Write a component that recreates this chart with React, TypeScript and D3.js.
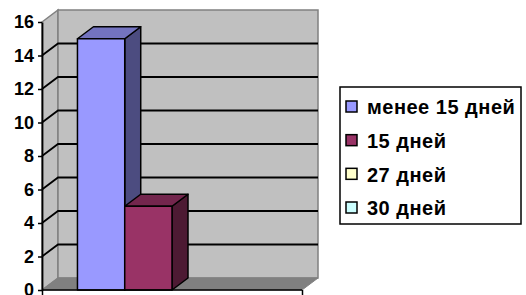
import { useEffect, useRef } from 'react';
import * as d3 from 'd3';

const seriesNames = ['менее 15 дней', '15 дней', '27 дней', '30 дней'];
const seriesValues = [15, 5, 0, 0];
const yTicks = [0, 2, 4, 6, 8, 10, 12, 14, 16];

const frontColors = ['#9999ff', '#993366', '#ffffcc', '#ccffff'];
const sideColors = ['#4c4c80', '#4d1a33', '#808066', '#668080'];
const topColors = ['#7373bf', '#73264d', '#bfbf99', '#99bfbf'];

const W = 526, H = 295;
const DX = 16, DY = 12;
const FONT = '"Liberation Sans", Arial, sans-serif';

export default function App() {
  const ref = useRef<SVGSVGElement | null>(null);

  useEffect(() => {
    document.body.style.margin = '0';
    const svg = d3.select(ref.current);
    svg.selectAll('*').remove();

    const x0 = 42, x1 = 302;
    const y = d3.scaleLinear().domain([0, 16]).range([290, 22]);
    const x = d3.scaleBand<string>().domain(seriesNames).range([x0, x1]).paddingInner(0).paddingOuter(0.75);
    const yb = y(0), yt = y(16);

    const g = svg.append('g');

    // side wall, back wall, floor
    g.append('polygon')
      .attr('points', [[x0, yb], [x0, yt], [x0 + DX, yt - DY], [x0 + DX, yb - DY]].join(' '))
      .style('fill', '#c0c0c0').style('stroke', '#808080').style('stroke-width', 1.5);
    g.append('rect')
      .attr('x', x0 + DX).attr('y', yt - DY).attr('width', x1 - x0).attr('height', yb - yt)
      .style('fill', '#c0c0c0').style('stroke', '#808080').style('stroke-width', 1.5);
    g.append('polygon')
      .attr('points', [[x0, yb], [x1, yb], [x1 + DX, yb - DY], [x0 + DX, yb - DY]].join(' '))
      .style('fill', '#808080').style('stroke', '#808080');

    // gridlines
    yTicks.filter(t => t > 0 && t < 16).forEach(t => {
      const yy = y(t);
      g.append('polyline')
        .attr('points', [[x0, yy], [x0 + DX, yy - DY], [x1 + DX, yy - DY]].join(' '))
        .style('fill', 'none').style('stroke', '#000').style('stroke-width', 1.8);
    });

    // bars
    seriesNames.forEach((s, i) => {
      const v = seriesValues[i];
      if (!v) return;
      const bx = x(s)!, bw = x.bandwidth(), by = y(v);
      const bar = g.append('g').style('stroke', '#000').style('stroke-width', 1.5).style('stroke-linejoin', 'round');
      bar.append('polygon')
        .attr('points', [[bx + bw, yb], [bx + bw, by], [bx + bw + DX, by - DY], [bx + bw + DX, yb - DY]].join(' '))
        .style('fill', sideColors[i]);
      bar.append('polygon')
        .attr('points', [[bx, by], [bx + bw, by], [bx + bw + DX, by - DY], [bx + DX, by - DY]].join(' '))
        .style('fill', topColors[i]);
      bar.append('rect')
        .attr('x', bx).attr('y', by).attr('width', bw).attr('height', yb - by)
        .style('fill', frontColors[i]);
    });

    // axes
    const yAxis = g.append('g').attr('transform', `translate(${x0},0)`)
      .call(d3.axisLeft(y).tickValues(yTicks).tickSize(4).tickSizeOuter(0).tickPadding(4));
    yAxis.select('.domain').style('stroke', '#000').style('stroke-width', 1.8);
    yAxis.selectAll('line').style('stroke', '#000').style('stroke-width', 1.5);
    yAxis.selectAll('text')
      .style('font-family', FONT).style('font-size', '18px').style('font-weight', '700').style('fill', '#000');

    const xAxis = g.append('g').attr('transform', `translate(0,${yb})`)
      .call(d3.axisBottom(d3.scaleLinear().domain([0, 1]).range([x0, x1])).tickValues([0, 1]).tickSize(5).tickFormat(() => ''));
    xAxis.select('.domain').remove();
    xAxis.append('line').attr('x1', x0).attr('x2', x1).style('stroke', '#000').style('stroke-width', 1.8);
    xAxis.selectAll('line').style('stroke', '#000').style('stroke-width', 1.5);

    // legend
    const lg = svg.append('g').attr('transform', 'translate(340,87)');
    lg.append('rect').attr('width', 181).attr('height', 137)
      .style('fill', '#fff').style('stroke', '#000').style('stroke-width', 1.5);
    const ly = d3.scalePoint<string>().domain(seriesNames).range([20, 121]);
    seriesNames.forEach((s, i) => {
      const cy = ly(s)!;
      lg.append('rect').attr('x', 6).attr('y', cy - 6).attr('width', 11).attr('height', 11)
        .style('fill', frontColors[i]).style('stroke', '#000').style('stroke-width', 1.5);
      lg.append('text').attr('x', 27).attr('y', cy).attr('dy', '0.36em')
        .style('font-family', FONT).style('letter-spacing', '0.5px')
        .style('font-size', '20px').style('font-weight', '700').style('fill', '#000')
        .text(s);
    });
  }, []);

  return <svg ref={ref} width={W} height={H} style={{ display: 'block', background: '#fff' }} />;
}
